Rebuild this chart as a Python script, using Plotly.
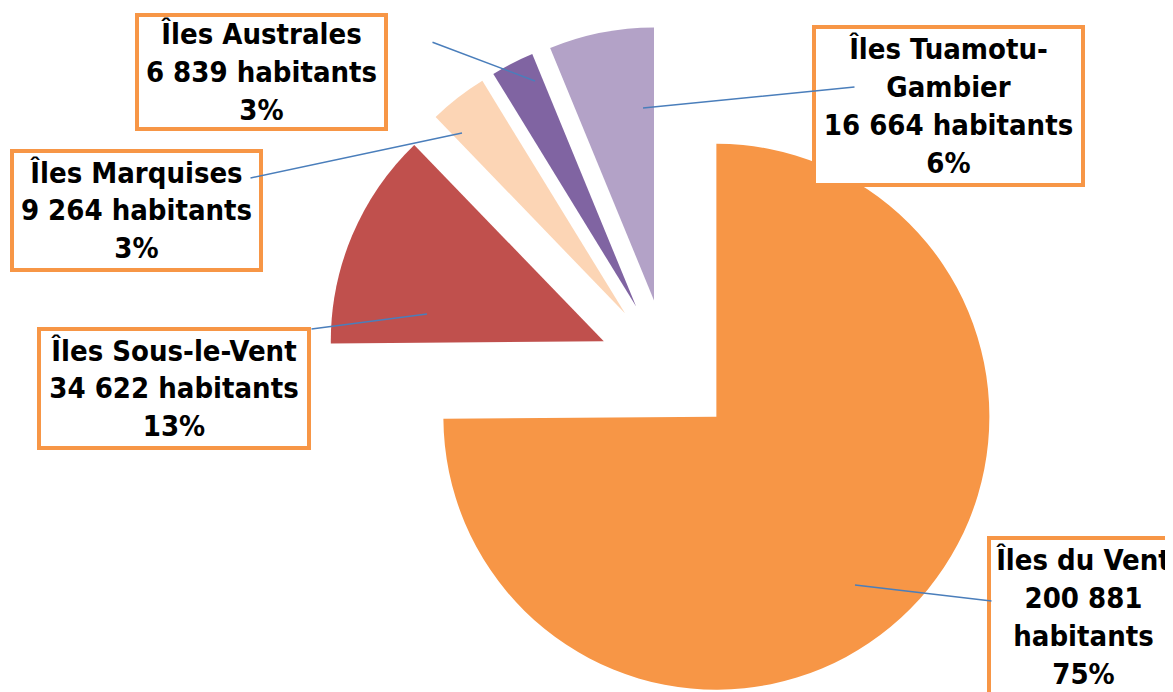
import math
import plotly.graph_objects as go

# ---------------- data ----------------
labels = ["Îles du Vent", "Îles Sous-le-Vent", "Îles Marquises", "Îles Australes", "Îles Tuamotu-Gambier"]
values = [200881, 34622, 9264, 6839, 16664]
colors = ["#F79646", "#C0504D", "#FCD5B5", "#8064A2", "#B3A2C7"]

# ---------------- layout constants ----------------
PAGE_W, PAGE_H = 1173, 692
OFF = 8                      # default body margin of the html page
W, H = PAGE_W - OFF, PAGE_H - OFF
CX, CY = 667.4, 368.1        # common pie centre (page px)
R = 273                      # pie radius (px)
PULL = 69                    # explosion distance (px)
FONT = "DejaVu Sans Condensed, Noto Sans, sans-serif"
FSIZE = 29
BORDER = "#F79646"
LINE = "#4A7EBB"

# label boxes: centre (page px), outer size (px), how the name is wrapped
boxes = {
    "Îles du Vent":         dict(c=(1083.5, 617), s=(193, 162), name="Îles du Vent", split=True),
    "Îles Sous-le-Vent":    dict(c=(174, 388.5), s=(274, 123), name="Îles Sous-le-Vent", split=False),
    "Îles Marquises":       dict(c=(136.5, 210.5), s=(253, 123), name="Îles Marquises", split=False),
    "Îles Australes":       dict(c=(261.5, 72), s=(253, 118), name="Îles Australes", split=False),
    "Îles Tuamotu-Gambier": dict(c=(948.5, 106), s=(273, 162), name="Îles Tuamotu-<br>Gambier", split=False),
}
# leader lines: (point inside slice, point at the label) in page px
leaders = {
    "Îles du Vent":         ((855, 585), (992, 601)),
    "Îles Sous-le-Vent":    ((427, 314), (311, 329)),
    "Îles Marquises":       ((462, 133), (250, 178)),
    "Îles Australes":       ((535, 81), (432, 42)),
    "Îles Tuamotu-Gambier": ((643, 108), (855, 87)),
}

total = sum(values)
fig = go.Figure()


def fx(px):
    return px - OFF


def fy(py):
    return py - OFF


cum = 0.0
for i, (lab, v) in enumerate(zip(labels, values)):
    theta = math.radians(360.0 * (cum + v / 2.0) / total)
    cum += v
    sx = fx(CX + PULL * math.sin(theta))
    sy = fy(CY - PULL * math.cos(theta))
    cols = ["rgba(0,0,0,0)"] * len(values)
    cols[i] = colors[i]
    fig.add_trace(go.Pie(
        labels=labels, values=values, sort=False, direction="clockwise", rotation=0,
        marker=dict(colors=cols, line=dict(width=0)),
        textinfo="none", hoverinfo="skip", showlegend=False,
        domain=dict(x=[(sx - R) / W, (sx + R) / W], y=[1 - (sy + R) / H, 1 - (sy - R) / H]),
    ))


def px2paper(p):
    return fx(p[0]) / W, 1 - fy(p[1]) / H


BW, BP = 4, 0
for lab, v in zip(labels, values):
    b = boxes[lab]
    num = f"{v:,}".replace(",", " ")
    pct = f"{round(100 * v / total)}%"
    if b["split"]:
        txt = f"{b['name']}<br>{num}<br>habitants<br>{pct}"
    else:
        txt = f"{b['name']}<br>{num} habitants<br>{pct}"
    x, y = px2paper(b["c"])
    fig.add_annotation(
        x=x, y=y, xref="paper", yref="paper", xanchor="center", yanchor="middle",
        text=txt, showarrow=False, align="center", valign="middle",
        width=b["s"][0] - 2 * (BW + BP), height=b["s"][1] - 2 * (BW + BP),
        bgcolor="white", bordercolor=BORDER, borderwidth=BW, borderpad=BP,
        font=dict(family=FONT, size=FSIZE, color="black", weight="bold"),
    )

for lab in labels:
    head, tail = leaders[lab]
    x, y = px2paper(head)
    fig.add_annotation(
        x=x, y=y, xref="paper", yref="paper", text=" ", showarrow=True,
        ax=tail[0] - head[0], ay=tail[1] - head[1], arrowhead=0, arrowwidth=1.5,
        arrowcolor=LINE, standoff=0, startstandoff=0, borderpad=0,
        font=dict(size=1),
    )

fig.update_layout(
    width=W, height=H, margin=dict(l=0, r=0, t=0, b=0),
    paper_bgcolor="white", plot_bgcolor="white", showlegend=False,
)

fig.write_html("out.html")
